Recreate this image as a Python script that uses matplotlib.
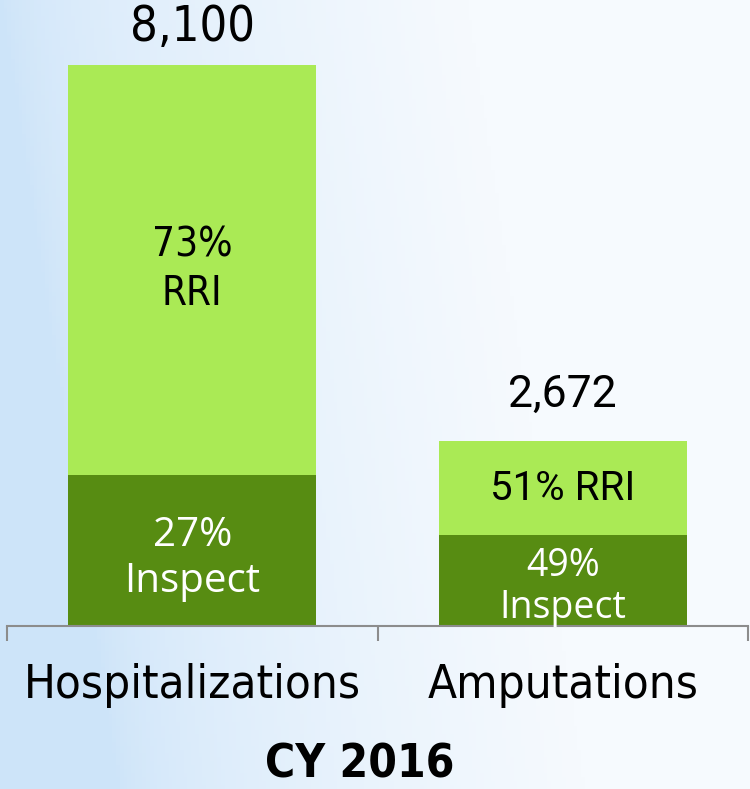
import matplotlib
matplotlib.use("Agg")
import matplotlib.pyplot as plt
import numpy as np

categories = ["Hospitalizations", "Amputations"]
totals = [8100, 2672]
inspect_pct = [27, 49]
rri_pct = [73, 51]
total_labels = ["8,100", "2,672"]
rri_labels = ["73%\nRRI", "51% RRI"]
inspect_labels = ["27%\nInspect", "49%\nInspect"]
xlabel = "CY 2016"

W, H = 750, 789
fig = plt.figure(figsize=(W / 100, H / 100), dpi=100)

# background gradient
bg = fig.add_axes([0, 0, 1, 1])
gx = np.linspace(0, 1, 200)
gy = np.linspace(0, 1, 200)
X, Y = np.meshgrid(gx, gy)
t = np.clip(X * 1.6 - Y * 0.25, 0, 1) ** 0.6
left = np.array([205, 228, 249]) / 255
right = np.array([246, 250, 254]) / 255
img = left[None, None, :] * (1 - t[..., None]) + right[None, None, :] * t[..., None]
bg.imshow(img, extent=[0, 1, 0, 1], aspect="auto", origin="upper")
bg.axis("off")

ax = fig.add_axes([7 / W, 163 / H, 741 / W, 626 / H])
ax.patch.set_alpha(0)
x = np.arange(len(categories))
inspect_vals = [t_ * p / 100 for t_, p in zip(totals, inspect_pct)]
rri_vals = [t_ - i for t_, i in zip(totals, inspect_vals)]
ax.bar(x, inspect_vals, width=0.67, color="#578C12")
ax.bar(x, rri_vals, bottom=inspect_vals, width=0.67, color="#AAEA55")
ax.set_xlim(-0.5, 1.5)
ax.set_ylim(0, 8100 * 626 / 561)

for s in ["top", "right", "left"]:
    ax.spines[s].set_visible(False)
ax.spines["bottom"].set_color("#8c8c8c")
ax.spines["bottom"].set_linewidth(1.5)
ax.set_yticks([])
ax.set_xticks([-0.5, 0.5, 1.5])
ax.set_xticklabels([])
ax.tick_params(axis="x", length=11, width=1.5, color="#8c8c8c")

cond = dict(family="DejaVu Sans", fontstretch="condensed")
for i in range(len(categories)):
    if i == 0:
        ax.annotate(total_labels[i], (x[i], totals[i]), xytext=(0, 27),
                    textcoords="offset points", ha="center", va="center",
                    fontsize=35, color="black", **cond)
        ax.text(x[i], inspect_vals[i] + rri_vals[i] / 2, rri_labels[i],
                ha="center", va="center", fontsize=29, linespacing=1.3,
                color="black", **cond)
        ax.text(x[i], inspect_vals[i] / 2 - 120, inspect_labels[i],
                ha="center", va="center", fontsize=29, family="Open Sans",
                linespacing=1.2, color="white", zorder=5)
    else:
        ax.annotate(total_labels[i], (x[i], totals[i]), xytext=(0, 33),
                    textcoords="offset points", ha="center", va="center",
                    fontsize=32, family="Roboto", color="black")
        ax.text(x[i], inspect_vals[i] + rri_vals[i] / 2, rri_labels[i],
                ha="center", va="center", fontsize=29, family="Roboto",
                color="black")
        ax.text(x[i], inspect_vals[i] / 2 - 90, inspect_labels[i],
                ha="center", va="center", fontsize=27, family="Open Sans",
                linespacing=1.12, color="white", zorder=5, clip_on=False)
    ax.annotate(categories[i], (x[i], 0), xytext=(0, -43),
                textcoords="offset points", ha="center", va="center",
                fontsize=34, color="black", **cond)

ax.annotate(xlabel, (0.5, 0), xycoords=("data", "axes fraction"),
            xytext=(-13, -100), textcoords="offset points", ha="center",
            va="center", fontsize=33, weight="bold", color="black", **cond)

fig.savefig("out.png", dpi=100)
